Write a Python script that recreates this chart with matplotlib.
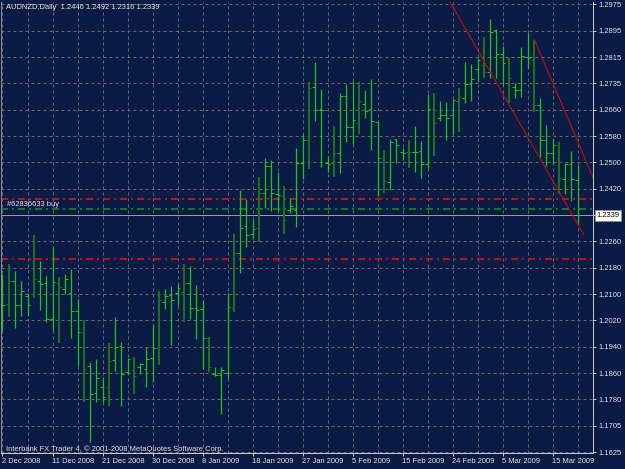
import matplotlib
matplotlib.use('Agg')
import matplotlib.pyplot as plt
import matplotlib.transforms as mtransforms
import numpy as np

plt.rcParams['font.family'] = ['Liberation Sans', 'DejaVu Sans']
plt.rcParams['lines.scale_dashes'] = False

# --- data --------------------------------------------------------------
title_text = 'AUDNZD,Daily  1.2446 1.2492 1.2316 1.2339'
footer_text = 'Interbank FX Trader 4, \u00a9 2001-2008 MetaQuotes Software Corp.'
order_text = '#62836633 buy'

opens = [1.2035, 1.2072, 1.2142, 1.2070, 1.2096, 1.2101, 1.2142, 1.2136, 1.2026, 1.2136,
         1.2116, 1.2106, 1.2050, 1.1986, 1.1886, 1.1803, 1.1820, 1.1820, 1.1902, 1.1946,
         1.1866, 1.1873, 1.1881, 1.1876, 1.1909, 1.1940, 1.2077, 1.2099, 1.2106, 1.2108,
         1.2136, 1.2060, 1.2057, 1.1970, 1.1861, 1.1856, 1.1863, 1.2060, 1.2226, 1.2308,
         1.2284, 1.2302, 1.2407, 1.2488, 1.2404, 1.2398, 1.2356, 1.2356, 1.2497, 1.2565,
         1.2726, 1.2660, 1.2498, 1.2498, 1.2527, 1.2700, 1.2604, 1.2618, 1.2676, 1.2659,
         1.2621, 1.2511, 1.2439, 1.2568, 1.2529, 1.2529, 1.2531, 1.2534, 1.2494, 1.2659,
         1.2634, 1.2643, 1.2641, 1.2684, 1.2692, 1.2736, 1.2781, 1.2791, 1.2771, 1.2899,
         1.2825, 1.2810, 1.2726, 1.2718, 1.2817, 1.2808, 1.2672, 1.2565, 1.2526, 1.2550,
         1.2448, 1.2494, 1.2446]
highs = [1.2162, 1.2192, 1.2172, 1.2142, 1.2106, 1.2279, 1.2201, 1.2157, 1.2243, 1.2152,
         1.2162, 1.2177, 1.2087, 1.2024, 1.1897, 1.1907, 1.1851, 1.1955, 1.2031, 1.1956,
         1.1910, 1.1912, 1.1894, 1.1943, 1.2012, 1.2111, 1.2118, 1.2126, 1.2131, 1.2192,
         1.2185, 1.2129, 1.2083, 1.1973, 1.1881, 1.1883, 1.2104, 1.2282, 1.2415, 1.2389,
         1.2328, 1.2455, 1.2512, 1.2507, 1.2471, 1.2427, 1.2391, 1.2543, 1.2585, 1.2742,
         1.2801, 1.2721, 1.2517, 1.2609, 1.2709, 1.2736, 1.2745, 1.2740, 1.2716, 1.2749,
         1.2623, 1.2537, 1.2568, 1.2570, 1.2543, 1.2567, 1.2608, 1.2563, 1.2706, 1.2708,
         1.2685, 1.2680, 1.2690, 1.2723, 1.2803, 1.2794, 1.2815, 1.2876, 1.2932, 1.2902,
         1.2849, 1.2815, 1.2738, 1.2846, 1.2888, 1.2869, 1.2692, 1.2611, 1.2570, 1.2560,
         1.2498, 1.2532, 1.2492]
lows = [1.1992, 1.2031, 1.1999, 1.2034, 1.2034, 1.2090, 1.2053, 1.2017, 1.1992, 1.1953,
        1.2101, 1.1968, 1.1886, 1.1777, 1.1655, 1.1777, 1.1776, 1.1764, 1.1869, 1.1764,
        1.1859, 1.1800, 1.1861, 1.1820, 1.1835, 1.1889, 1.2057, 1.1947, 1.2065, 1.2016,
        1.2026, 1.1965, 1.1876, 1.1866, 1.1853, 1.1740, 1.1848, 1.2048, 1.2165, 1.2243,
        1.2267, 1.2259, 1.2361, 1.2351, 1.2351, 1.2282, 1.2345, 1.2305, 1.2449, 1.2478,
        1.2623, 1.2486, 1.2470, 1.2456, 1.2468, 1.2560, 1.2553, 1.2583, 1.2634, 1.2535,
        1.2396, 1.2407, 1.2415, 1.2498, 1.2507, 1.2481, 1.2471, 1.2453, 1.2483, 1.2519,
        1.2623, 1.2567, 1.2581, 1.2590, 1.2678, 1.2685, 1.2740, 1.2754, 1.2754, 1.2754,
        1.2733, 1.2677, 1.2692, 1.2696, 1.2783, 1.2651, 1.2514, 1.2488, 1.2495, 1.2402,
        1.2402, 1.2381, 1.2316]
closes = [1.2070, 1.2142, 1.2070, 1.2111, 1.2070, 1.2146, 1.2133, 1.2026, 1.2139, 1.2124,
          1.2146, 1.2050, 1.1986, 1.1876, 1.1800, 1.1849, 1.1790, 1.1900, 1.1943, 1.1861,
          1.1905, 1.1853, 1.1891, 1.1907, 1.1940, 1.2085, 1.2097, 1.2085, 1.2121, 1.2136,
          1.2060, 1.2053, 1.1968, 1.1883, 1.1858, 1.1871, 1.2062, 1.2226, 1.2302, 1.2279,
          1.2299, 1.2407, 1.2488, 1.2405, 1.2400, 1.2325, 1.2366, 1.2497, 1.2565, 1.2723,
          1.2658, 1.2657, 1.2494, 1.2527, 1.2700, 1.2604, 1.2628, 1.2684, 1.2655, 1.2623,
          1.2511, 1.2444, 1.2561, 1.2552, 1.2527, 1.2531, 1.2529, 1.2494, 1.2659, 1.2618,
          1.2643, 1.2634, 1.2687, 1.2696, 1.2736, 1.2749, 1.2808, 1.2771, 1.2893, 1.2825,
          1.2800, 1.2754, 1.2718, 1.2820, 1.2815, 1.2672, 1.2565, 1.2526, 1.2550, 1.2453,
          1.2494, 1.2448, 1.2339]

date_labels = ['2 Dec 2008', '11 Dec 2008', '21 Dec 2008', '30 Dec 2008', '8 Jan 2009',
               '18 Jan 2009', '27 Jan 2009', '5 Feb 2009', '15 Feb 2009', '24 Feb 2009',
               '5 Mar 2009', '15 Mar 2009']
price_labels = ['1.1625', '1.1705', '1.1780', '1.1860', '1.1940', '1.2020', '1.2100',
                '1.2180', '1.2260', '', '1.2420', '1.2500', '1.2580', '1.2660', '1.2735',
                '1.2815', '1.2895', '1.2975']

current_price = 1.2339
red_levels = [1.2388, 1.2207]
green_level = 1.2358
trend1_x = [71.1, 93.0]
trend1_y = [1.2999, 1.2281]
trend2_x = [85.1, 95.0]
trend2_y = [1.2869, 1.2430]

# --- styling -------------------------------------------------------------
bg = '#0a1b45'
txt = '#e4e4e4'
px = 0.72  # one pixel in points at dpi 100

fig = plt.figure(figsize=(6.25, 4.69), dpi=100, facecolor=bg)
ax = fig.add_axes([1.5 / 625, 16 / 469, 591.5 / 625, 451 / 469], facecolor=bg)
ax.set_xlim(-0.16, 94.48)
ax.set_ylim(1.16221, 1.29825)

yt = np.linspace(1.1625, 1.2975, len(price_labels))
xt = np.arange(0, len(opens), 8)

# grid
for y in yt:
    ax.axhline(y, color='#76675a', lw=px, dashes=(3 * px, 3 * px), zorder=1)
for xv in np.arange(0, 96, 4):
    ax.axvline(xv, color='#6a6a74', lw=px, dashes=(3 * px, 3 * px), zorder=1)

# order lines
dashdot = (7 * px, 4 * px, 2 * px, 4 * px)
for lvl in red_levels:
    ax.axhline(lvl, color='#d01414', lw=1.8 * px, dashes=dashdot, zorder=2)
ax.axhline(green_level, color='#207e20', lw=1.8 * px, dashes=dashdot, zorder=2)
ax.axhline(current_price, color='#9a9a9a', lw=px, zorder=2)

# bars
x = np.arange(len(opens))
o = np.array(opens); h = np.array(highs); l = np.array(lows); c = np.array(closes)
dark = (x % 4 == 1)
for mask, col, w in [(~dark, '#14cc14', px * 1.2), (dark, '#1b721b', px * 2)]:
    ax.vlines(x[mask], l[mask], h[mask], colors=col, lw=w, zorder=3)
    ax.hlines(o[mask], x[mask] - 0.42, x[mask], colors=col, lw=px, zorder=3)
    ax.hlines(c[mask], x[mask], x[mask] + 0.42, colors=col, lw=px, zorder=3)

# trend lines
ax.plot(trend1_x, trend1_y, color='#c01010', lw=1.1 * px, zorder=4)
ax.plot(trend2_x, trend2_y, color='#c01010', lw=1.1 * px, zorder=4)

# axes look
ax.spines['top'].set_visible(False)
ax.spines['left'].set_color('#8a8a8a')
ax.spines['right'].set_color('#c8c8c8')
ax.spines['bottom'].set_color('#c8c8c8')
for s in ['left', 'right', 'bottom']:
    ax.spines[s].set_linewidth(px)

ax.yaxis.tick_right()
ax.set_yticks(yt)
ax.set_yticklabels(price_labels)
ax.set_xticks(xt)
ax.set_xticklabels(date_labels, ha='left')
ax.tick_params(axis='both', colors='#c8c8c8', labelcolor=txt, labelsize=5.4,
               length=3 * px, width=px)
ax.tick_params(axis='x', pad=1.5)
ax.tick_params(axis='y', pad=2)

# current price box
trans = mtransforms.blended_transform_factory(ax.transAxes, ax.transData)
ax.text(1.006, current_price, '1.2339', transform=trans, ha='left', va='center',
        fontsize=5.4, color='black', zorder=6, clip_on=False,
        bbox=dict(boxstyle='square,pad=0.25', fc='white', ec='#909090', lw=0.5))

ax.text(0.7, 1.2371, order_text, fontsize=5.4, color=txt, va='center', ha='left', zorder=5)
fig.text(6 / 625, 1 - 7.5 / 469, title_text, fontsize=5.4, color=txt, va='center', ha='left')
fig.text(6 / 625, 1 - 449.5 / 469, footer_text, fontsize=5.4, color=txt, va='center', ha='left')

fig.savefig('out.png', dpi=100, facecolor=bg)
